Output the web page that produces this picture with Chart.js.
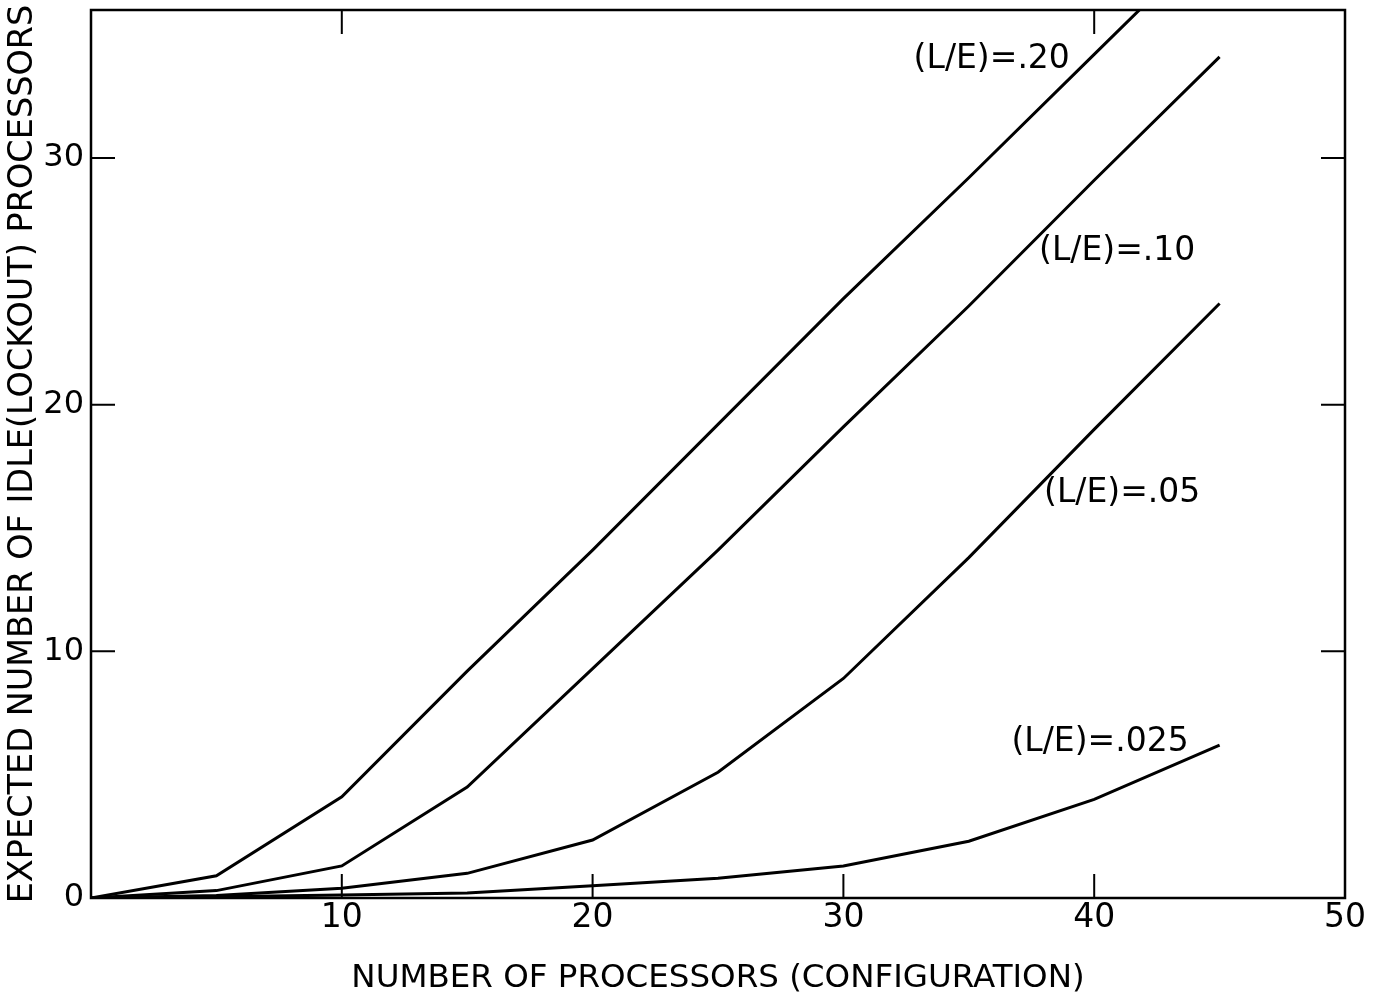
<!DOCTYPE html>
<html>
<head>
<meta charset="utf-8">
<script src="https://cdn.jsdelivr.net/npm/chart.js@4/dist/chart.umd.min.js"></script>
<style>
    html, body { margin: 0; padding: 0; background: #fff; }
    #wrap { width: 1374px; height: 1000px; position: relative; }
</style>
</head>
<body>
<div id="wrap"><canvas id="lockout-chart"></canvas></div>
<script>
// 处理器数量（横轴）
const processors = [0, 5, 10, 15, 20, 25, 30, 35, 40, 45];

// 各 (L/E) 比值下的期望空闲（锁定）处理器数
const idleLE020 = [0, 0.9, 4.1, 9.2, 14.1, 19.2, 24.3, 29.2, 34.2, 39.2];
const idleLE010 = [0, 0.3, 1.3, 4.5, 9.3, 14.1, 19.1, 24.0, 29.1, 34.1];
const idleLE005 = [0, 0.1, 0.4, 1.0, 2.35, 5.1, 8.9, 13.8, 19.0, 24.1];
const idleLE0025 = [0, 0.05, 0.12, 0.2, 0.5, 0.8, 1.3, 2.3, 4.0, 6.2];

// 刻度
const xTickValues = [10, 20, 30, 40, 50];
const yTickValues = [0, 10, 20, 30];
const bottomTickMarks = [10, 20, 30, 40];
const topTickMarks = [10, 40];
const sideTickMarks = [10, 20, 30];

// 曲线旁的文字标注（数据坐标）
const curveLabels = [
    { text: '(L/E)=.20', x: 32.8, y: 34.0 },
    { text: '(L/E)=.10', x: 37.8, y: 26.2 },
    { text: '(L/E)=.05', x: 38.0, y: 16.4 },
    { text: '(L/E)=.025', x: 36.7, y: 6.3 }
];

const FONT_FAMILY = '"DejaVu Sans", sans-serif';
const TICK_LEN = 24;

function toPoints(values) {
    return processors.map((x, i) => ({ x, y: values[i] }));
}

/**
 * 画外框、向内的刻度线以及曲线标注。
 */
const frameTicksPlugin = {
    id: 'frameTicks',
    afterDatasetsDraw(chart) {
        const { ctx, chartArea: { left, right, top, bottom }, scales: { x, y } } = chart;
        ctx.save();
        ctx.strokeStyle = '#000';
        ctx.lineWidth = 2.5;
        ctx.strokeRect(left, top, right - left, bottom - top);

        ctx.lineWidth = 2;
        ctx.beginPath();
        bottomTickMarks.forEach((v) => {
            const px = x.getPixelForValue(v);
            ctx.moveTo(px, bottom);
            ctx.lineTo(px, bottom - TICK_LEN);
        });
        topTickMarks.forEach((v) => {
            const px = x.getPixelForValue(v);
            ctx.moveTo(px, top);
            ctx.lineTo(px, top + TICK_LEN);
        });
        sideTickMarks.forEach((v) => {
            const py = y.getPixelForValue(v);
            ctx.moveTo(left, py);
            ctx.lineTo(left + TICK_LEN, py);
            ctx.moveTo(right, py);
            ctx.lineTo(right - TICK_LEN, py);
        });
        ctx.stroke();

        ctx.fillStyle = '#000';
        ctx.font = '33px ' + FONT_FAMILY;
        ctx.textAlign = 'left';
        ctx.textBaseline = 'middle';
        curveLabels.forEach((label) => {
            ctx.fillText(label.text, x.getPixelForValue(label.x), y.getPixelForValue(label.y));
        });
        ctx.restore();
    }
};

function renderLockoutChart() {
    const canvas = document.getElementById('lockout-chart');
    const lineStyle = { borderColor: '#000', borderWidth: 3, pointRadius: 0, fill: false, tension: 0 };

    new Chart(canvas, {
        type: 'line',
        data: {
            datasets: [
                { label: '(L/E)=.20', data: toPoints(idleLE020), ...lineStyle },
                { label: '(L/E)=.10', data: toPoints(idleLE010), ...lineStyle },
                { label: '(L/E)=.05', data: toPoints(idleLE005), ...lineStyle },
                { label: '(L/E)=.025', data: toPoints(idleLE0025), ...lineStyle }
            ]
        },
        options: {
            responsive: true,
            maintainAspectRatio: false,
            animation: false,
            layout: { padding: { left: 0, right: 29, top: 10, bottom: 0 } },
            plugins: { legend: { display: false }, tooltip: { enabled: false } },
            scales: {
                x: {
                    type: 'linear',
                    min: 0,
                    max: 50,
                    border: { display: false },
                    grid: { display: false, drawTicks: false },
                    afterBuildTicks: (scale) => { scale.ticks = xTickValues.map((value) => ({ value })); },
                    afterFit: (scale) => {
                        scale.height = 102;
                        scale.paddingLeft = 0;
                        scale.paddingRight = 0;
                    },
                    ticks: { color: '#000', font: { family: FONT_FAMILY, size: 33 }, padding: 1, maxRotation: 0, autoSkip: false },
                    title: {
                        display: true,
                        text: 'NUMBER OF PROCESSORS (CONFIGURATION)',
                        color: '#000',
                        font: { family: FONT_FAMILY, size: 32.5 },
                        padding: { top: 0, bottom: 2 }
                    }
                },
                y: {
                    type: 'linear',
                    min: 0,
                    max: 36,
                    border: { display: false },
                    grid: { display: false, drawTicks: false },
                    afterBuildTicks: (scale) => { scale.ticks = yTickValues.map((value) => ({ value })); },
                    afterFit: (scale) => {
                        scale.width = 91;
                        scale.paddingTop = 0;
                        scale.paddingBottom = 0;
                    },
                    ticks: { color: '#000', font: { family: FONT_FAMILY, size: 32 }, padding: 7 },
                    title: {
                        display: true,
                        text: 'EXPECTED NUMBER OF IDLE(LOCKOUT) PROCESSORS',
                        color: '#000',
                        font: { family: FONT_FAMILY, size: 33.5 },
                        padding: { top: 3, bottom: 0 }
                    }
                }
            }
        },
        plugins: [frameTicksPlugin]
    });
}

renderLockoutChart();
</script>
</body>
</html>
